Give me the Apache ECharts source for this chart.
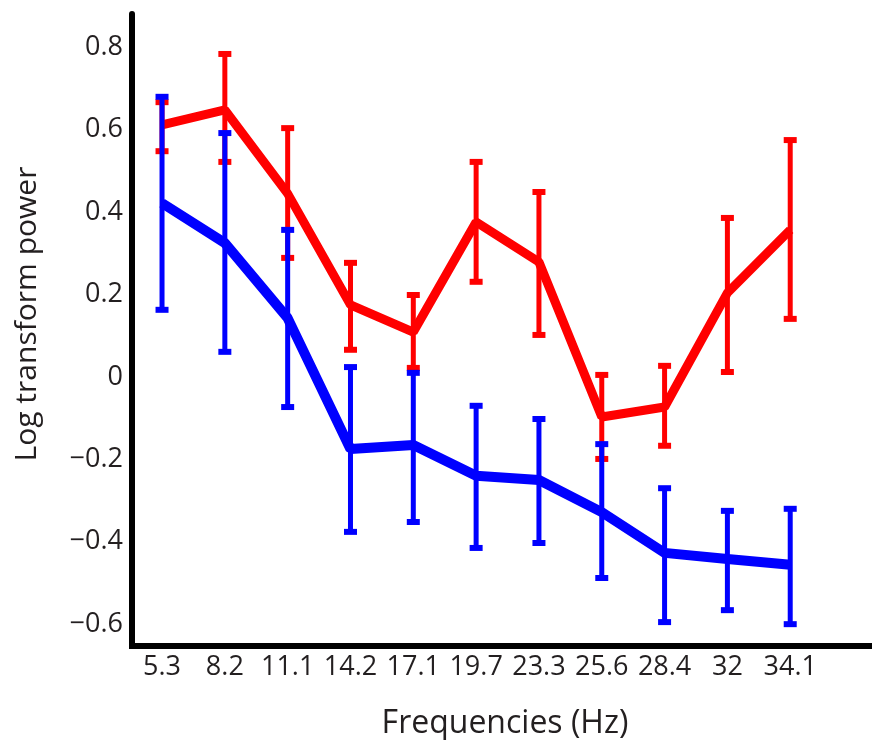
<!DOCTYPE html>
<html>
<head>
<meta charset="utf-8">
<script src="https://cdn.jsdelivr.net/npm/echarts@6/dist/echarts.min.js"></script>
<style>
  html, body { margin: 0; padding: 0; background: #fff; }
  #main { width: 872px; height: 740px; }
</style>
</head>
<body>
<div id="main"></div>
<script>
// frequencies on the x axis
let freqLabels = ['5.3', '8.2', '11.1', '14.2', '17.1', '19.7', '23.3', '25.6', '28.4', '32', '34.1'];
let yTicks = [-0.6, -0.4, -0.2, 0, 0.2, 0.4, 0.6, 0.8];

// red group: mean and error bar ends
let redMean = [0.612, 0.648, 0.445, 0.175, 0.109, 0.376, 0.279, -0.097, -0.073, 0.204, 0.357];
let redLow  = [0.548, 0.522, 0.289, 0.066, 0.022, 0.231, 0.102, -0.199, -0.167, 0.012, 0.141];
let redHigh = [0.667, 0.784, 0.604, 0.277, 0.199, 0.522, 0.449, 0.005, 0.027, 0.386, 0.575];

// blue group
let blueMean = [0.422, 0.325, 0.143, -0.175, -0.165, -0.240, -0.250, -0.328, -0.427, -0.442, -0.456];
let blueLow  = [0.163, 0.061, -0.073, -0.376, -0.352, -0.415, -0.403, -0.488, -0.595, -0.566, -0.600];
let blueHigh = [0.680, 0.592, 0.357, 0.024, 0.010, -0.070, -0.102, -0.163, -0.270, -0.325, -0.320];

let font = '"Open Sans", sans-serif';
let textColor = '#231f20';

function linePoints(vals) {
	return vals.map(function (v, i) { return [i, v]; });
}
function barPoints(low, high) {
	return low.map(function (v, i) { return [i, v, high[i]]; });
}

function errorBar(color, z) {
	return {
		type: 'custom',
		z: z,
		silent: true,
		renderItem: function (params, api) {
			let lo = api.coord([api.value(0), api.value(1)]);
			let hi = api.coord([api.value(0), api.value(2)]);
			let half = 6.5;
			let st = { stroke: color, lineWidth: 5 };
			let capSt = { stroke: color, lineWidth: 6 };
			return {
				type: 'group',
				children: [
					{ type: 'line', shape: { x1: lo[0], y1: lo[1], x2: hi[0], y2: hi[1] }, style: st },
					{ type: 'line', shape: { x1: hi[0] - half, y1: hi[1], x2: hi[0] + half, y2: hi[1] }, style: capSt },
					{ type: 'line', shape: { x1: lo[0] - half, y1: lo[1], x2: lo[0] + half, y2: lo[1] }, style: capSt }
				]
			};
		},
		encode: { x: 0, y: [1, 2] },
		data: barPoints
	};
}

let myChart = echarts.init(document.getElementById('main'));
let redBars = errorBar('#ff0000', 3);
redBars.data = barPoints(redLow, redHigh);
let blueBars = errorBar('#0000ff', 5);
blueBars.data = barPoints(blueLow, blueHigh);

let option = {
	backgroundColor: '#fff',
	animation: false,
	grid: { left: 132, right: 2, top: 14, bottom: 94 },
	xAxis: {
		type: 'value',
		min: -0.478,
		max: 11.27,
		axisLine: { onZero: false, lineStyle: { color: '#000', width: 6, cap: 'square' } },
		axisTick: { show: false },
		splitLine: { show: false },
		axisLabel: {
			customValues: freqLabels.map(function (f, i) { return i; }),
			formatter: function (v) { return freqLabels[Math.round(v)]; },
			margin: 8,
			color: textColor,
			fontFamily: font,
			fontSize: 27
		}
	},
	yAxis: {
		type: 'value',
		min: -0.653,
		max: 0.881,
		axisLine: { onZero: false, lineStyle: { color: '#000', width: 6 } },
		axisTick: { show: false },
		splitLine: { show: false },
		axisLabel: {
			customValues: yTicks,
			formatter: function (v) {
				if (Math.abs(v) < 1e-9) return '0';
				return v < 0 ? '\u2212' + Math.abs(v).toFixed(1) : v.toFixed(1);
			},
			margin: 9,
			color: textColor,
			fontFamily: font,
			fontSize: 27
		}
	},
	graphic: [
		{
			type: 'text',
			x: 27,
			y: 314,
			rotation: Math.PI / 2,
			style: {
				text: 'Log transform power',
				fill: textColor,
				font: '30px "Open Sans", sans-serif',
				align: 'center',
				verticalAlign: 'middle'
			}
		},
		{
			type: 'text',
			x: 505,
			y: 724,
			style: {
				text: 'Frequencies (Hz)',
				fill: textColor,
				font: '32px "Open Sans", sans-serif',
				align: 'center',
				verticalAlign: 'middle'
			}
		}
	],
	series: [
		{
			name: 'red',
			type: 'line',
			z: 2,
			symbol: 'none',
			lineStyle: { color: '#ff0000', width: 9 },
			data: linePoints(redMean)
		},
		redBars,
		{
			name: 'blue',
			type: 'line',
			z: 4,
			symbol: 'none',
			lineStyle: { color: '#0000ff', width: 10 },
			data: linePoints(blueMean)
		},
		blueBars
	]
};
myChart.setOption(option);
</script>
</body>
</html>
